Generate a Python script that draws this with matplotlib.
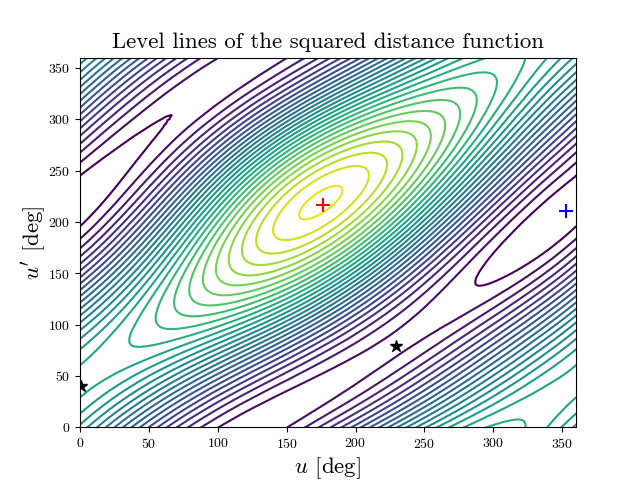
#!/usr/bin/env python3
import numpy as np
import matplotlib
matplotlib.use("Agg")
import matplotlib.pyplot as plt
from matplotlib.tri import Triangulation, UniformTriRefiner

plt.rcParams["font.family"] = "cmr10"
plt.rcParams["mathtext.fontset"] = "cm"
plt.rcParams["axes.formatter.use_mathtext"] = True
plt.rcParams["axes.unicode_minus"] = False

# grid nodes in degrees, the field repeats after 360
u_deg = [0, 20, 40, 60, 80, 100, 120, 140, 160, 180, 200, 220, 240, 260, 280, 300, 320, 340]
v_deg = [0, 20, 40, 60, 80, 100, 120, 140, 160, 180, 200, 220, 240, 260, 280, 300, 320, 340]

# squared distance estimated from the level lines, one row per v_deg, unit is 1/100 of a level step
dist2 = [
    [1374, 1083, 759, 447, 184, 4, -78, -54, 68, 274, 540, 840, 1140, 1408, 1609, 1716, 1712, 1593],
    [1551, 1351, 1082, 781, 487, 233, 47, -52, -57, 32, 207, 452, 741, 1041, 1315, 1526, 1645, 1654],
    [1632, 1548, 1372, 1129, 850, 568, 314, 113, -12, -49, 10, 162, 393, 677, 980, 1260, 1479, 1609],
    [1602, 1646, 1589, 1443, 1226, 964, 685, 419, 193, 36, -33, 0, 135, 357, 639, 944, 1229, 1458],
    [1462, 1630, 1705, 1681, 1565, 1369, 1112, 823, 531, 272, 80, -19, -8, 114, 331, 613, 922, 1217],
    [1226, 1499, 1701, 1814, 1825, 1732, 1542, 1275, 959, 631, 333, 106, -19, -24, 89, 305, 591, 911],
    [923, 1270, 1582, 1826, 1975, 2011, 1924, 1722, 1425, 1068, 697, 361, 105, -39, -54, 58, 280, 580],
    [595, 975, 1364, 1720, 2002, 2176, 2216, 2114, 1878, 1536, 1132, 719, 351, 74, -79, -94, 28, 267],
    [286, 653, 1078, 1513, 1906, 2211, 2387, 2408, 2268, 1983, 1591, 1142, 695, 307, 22, -128, -129, 15],
    [35, 348, 763, 1233, 1703, 2117, 2420, 2572, 2550, 2358, 2020, 1581, 1099, 634, 241, -37, -169, -144],
    [-127, 96, 456, 914, 1417, 1903, 2311, 2586, 2692, 2615, 2368, 1984, 1514, 1016, 551, 169, -87, -189],
    [-182, -76, 192, 592, 1079, 1594, 2070, 2446, 2672, 2722, 2591, 2300, 1887, 1405, 911, 461, 105, -118],
    [-129, -150, -2, 301, 727, 1222, 1722, 2164, 2490, 2661, 2658, 2486, 2170, 1749, 1275, 801, 378, 56],
    [22, -123, -107, 73, 398, 827, 1305, 1770, 2163, 2434, 2555, 2515, 2322, 2003, 1594, 1142, 696, 308],
    [251, 0, -112, -67, 131, 456, 868, 1311, 1728, 2069, 2295, 2382, 2326, 2134, 1828, 1443, 1019, 605],
    [531, 207, -14, -101, -42, 155, 464, 841, 1239, 1609, 1908, 2105, 2180, 2127, 1950, 1667, 1309, 915],
    [833, 476, 178, -21, -95, -36, 146, 423, 760, 1115, 1447, 1721, 1908, 1987, 1948, 1793, 1535, 1201],
    [1125, 779, 445, 168, -17, -90, -43, 111, 352, 650, 971, 1280, 1546, 1736, 1829, 1809, 1673, 1436],
]

star_u = [229, 1]
star_v = [79, 40]
red_u, red_v = 176.5, 216
blue_u, blue_v = 353, 211


def main():
    z = np.array(dist2) / 100.0
    step = u_deg[1] - u_deg[0]

    # repeat a few nodes past the edges so the refiner has no boundary there
    pad = 3
    z = np.pad(z, pad, mode="wrap")
    u = np.arange(-pad, len(u_deg) + pad) * step
    v = np.arange(-pad, len(v_deg) + pad) * step
    uu, vv = np.meshgrid(u, v)

    tri = Triangulation(uu.ravel().astype(float), vv.ravel().astype(float))
    fine_tri, fine_z = UniformTriRefiner(tri).refine_field(z.ravel(), subdiv=3)

    fig, ax = plt.subplots(figsize=(6.4, 4.8))
    ax.tricontour(fine_tri, fine_z, levels=np.arange(-1, 29), cmap="viridis", linewidths=1.5)
    ax.plot(red_u, red_v, "r+", ms=10, mew=1.5)
    ax.plot(blue_u, blue_v, "b+", ms=10, mew=1.5)
    ax.plot(star_u, star_v, "k*", ms=9)

    ax.set_xlim(0, 360)
    ax.set_ylim(0, 360)
    ax.set_xticks(np.arange(0, 360, 50))
    ax.set_yticks(np.arange(0, 360, 50))
    ax.set_title("Level lines of the squared distance function", fontsize=16.4, pad=7)
    ax.set_xlabel(r"$u$ [deg]", fontsize=16.5, labelpad=3)
    ax.set_ylabel(r"$u'$ [deg]", fontsize=16.5, labelpad=0)

    fig.savefig("out.png", dpi=100)


if __name__ == "__main__":
    main()
